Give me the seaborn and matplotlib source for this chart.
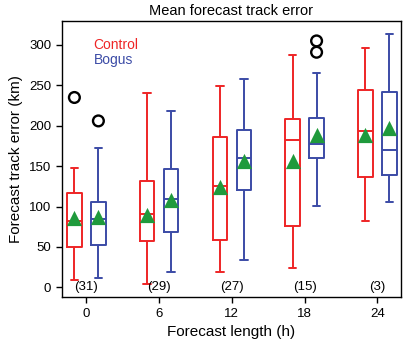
import matplotlib
matplotlib.use('Agg')
import matplotlib.pyplot as plt
import numpy as np
import pandas as pd
import seaborn as sns

# Forecast lengths (h) and number of cases
lengths=['0','6','12','18','24']
counts=[31,29,27,15,3]
runs=['Control','Bogus']

# Box summaries: [whisker low, Q1, median, Q3, whisker high]
control_box=[[9,50,82,117,148],
             [4,57,91,132,240],
             [19,59,126,186,249],
             [24,76,183,208,287],
             [82,137,194,244,296]]
bogus_box=[[11,53,84,106,173],
           [19,68,109,146,218],
           [34,121,160,195,258],
           [101,160,178,209,265],
           [106,139,170,242,313]]

# Means (green triangles)
control_mean=[86,89,124,157,189]
bogus_mean=[87,108,156,189,197]

# Outliers: (length, run, value)
outlier_len=['0','0','18','18']
outlier_run=['Control','Bogus','Bogus','Bogus']
outlier_val=[235,206,291,305]

colors={'Control':'#ee2526','Bogus':'#3b4ba6'}
green='#1f9a3c'

rows=[]
for i,l in enumerate(lengths):
    for v in control_box[i]:
        rows.append([l,'Control',v])
    for v in bogus_box[i]:
        rows.append([l,'Bogus',v])
df=pd.DataFrame(rows,columns=['length','run','error'])

width=0.66
offset={'Control':-width/4,'Bogus':width/4}

means=pd.DataFrame({'pos':[i+offset['Control'] for i in range(len(lengths))]+[i+offset['Bogus'] for i in range(len(lengths))],
                    'mean':control_mean+bogus_mean})
outs=pd.DataFrame({'pos':[lengths.index(l)+offset[r] for l,r in zip(outlier_len,outlier_run)],
                   'val':outlier_val})

sns.set_style('ticks')
plt.rcParams['font.family']=['Liberation Sans','DejaVu Sans']
for k in ['text.color','axes.labelcolor','xtick.color','ytick.color','axes.edgecolor']:
    plt.rcParams[k]='black'

fig=plt.figure(figsize=(4.03,3.45),dpi=100)
ax=fig.add_axes([0.153,0.138,0.841,0.801])

sns.boxplot(data=df,x='length',y='error',hue='run',hue_order=runs,order=lengths,
            palette=colors,fill=False,width=width,gap=0.39,whis=(0,100),
            showfliers=False,linewidth=1.4,legend=False,ax=ax)

sns.scatterplot(data=means,x='pos',y='mean',marker='^',s=120,color=green,
                edgecolor=green,linewidth=0,zorder=5,ax=ax)
sns.scatterplot(data=outs,x='pos',y='val',marker='o',s=60,facecolor='none',
                edgecolor='black',linewidth=1.7,zorder=5,ax=ax)

for i,c in enumerate(counts):
    ax.text(i,0,'('+str(c)+')',ha='center',va='center',fontsize=9.5)

ax.text(0.094,0.915,'Control',color=colors['Control'],transform=ax.transAxes,
        ha='left',va='center',fontsize=10)
ax.text(0.094,0.86,'Bogus',color=colors['Bogus'],transform=ax.transAxes,
        ha='left',va='center',fontsize=10)

ax.set_xlim(-0.34,4.32)
ax.set_ylim(-12.4,329.6)
ax.set_yticks(np.arange(0,301,50))
ax.set_xticks(range(len(lengths)))
ax.set_xticklabels(lengths)
ax.tick_params(labelsize=9.5,length=4,width=1,color='black')
for s in ax.spines.values():
    s.set_visible(True)
    s.set_linewidth(1)
    s.set_color('black')
ax.set_xlabel('Forecast length (h)',fontsize=11)
ax.set_ylabel('Forecast track error (km)',fontsize=11)
ax.set_title('Mean forecast track error',fontsize=10.5,pad=4)

plt.savefig('out.png',dpi=100)
